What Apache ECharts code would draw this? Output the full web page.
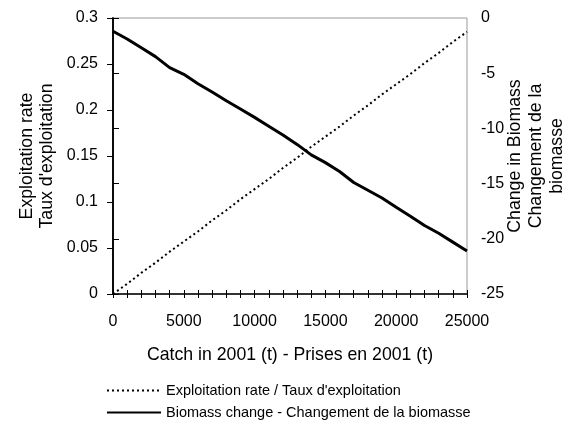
<!DOCTYPE html>
<html><head><meta charset="utf-8">
<script src="https://cdn.jsdelivr.net/npm/echarts@6/dist/echarts.min.js"></script>
<style>html,body{margin:0;padding:0;background:#fff}#c{width:573px;height:427px}</style>
</head><body><div id="c"></div>
<script>
const catches = [0,1000,2000,3000,4000,5000,6000,7000,8000,9000,10000,11000,12000,13000,14000,15000,16000,17000,18000,19000,20000,21000,22000,23000,24000,25000];
const exploitationRate = [0,0.011,0.023,0.034,0.046,0.057,0.068,0.080,0.091,0.103,0.114,0.125,0.137,0.148,0.160,0.171,0.182,0.194,0.205,0.217,0.228,0.239,0.251,0.262,0.274,0.285];
const biomassChange = [-1.2,-1.9,-2.7,-3.5,-4.5,-5.1,-5.95,-6.7,-7.5,-8.25,-9.0,-9.8,-10.6,-11.45,-12.4,-13.1,-13.9,-14.9,-15.6,-16.3,-17.15,-17.95,-18.8,-19.5,-20.3,-21.1];
const xTitle = 'Catch in 2001 (t) - Prises en 2001 (t)';
const yLeftTitle = 'Exploitation rate\nTaux d\'exploitation';
const yRightTitle = 'Change in Biomass\nChangement de la\nbiomasse';
const seriesNames = ['Exploitation rate / Taux d\'exploitation', 'Biomass change - Changement de la biomasse'];

const FONT = 'Liberation Sans';
const chart = echarts.init(document.getElementById('c'), null, {renderer:'canvas'});
const legendText = {fontFamily:FONT, fontSize:14.5, color:'#000'};
const hiddenSymbol = {color:'rgba(0,0,0,0)', borderColor:'rgba(0,0,0,0)', borderWidth:0};
chart.setOption({
  animation:false,
  backgroundColor:'#fff',
  textStyle:{fontFamily:FONT, color:'#000'},
  grid:{left:113, right:106, top:18, bottom:133, containLabel:false, outerBoundsMode:'none',
        show:true, borderColor:'#999', borderWidth:1, backgroundColor:'transparent'},
  legend:[{
    left:106, top:383, itemWidth:54, itemHeight:14, itemGap:0, padding:0,
    textStyle:legendText, itemStyle:hiddenSymbol, data:[seriesNames[0]]
  },{
    left:106, top:405, itemWidth:54, itemHeight:14, itemGap:0, padding:0,
    textStyle:legendText, itemStyle:hiddenSymbol, data:[seriesNames[1]]
  }],
  xAxis:[{
    type:'value', min:0, max:25000, interval:5000, position:'bottom',
    axisLine:{show:true, lineStyle:{color:'#000', width:1.5}},
    axisTick:{show:true, length:4, lineStyle:{color:'#000'}},
    minorTick:{show:true, splitNumber:5, length:4, lineStyle:{color:'#000'}},
    splitLine:{show:false},
    axisLabel:{fontFamily:FONT, fontSize:16, color:'#000', margin:20, formatter:v=>String(v)},
    name:xTitle, nameLocation:'middle', nameGap:52, nameMoveOverlap:false,
    nameTextStyle:{fontFamily:FONT, fontSize:17.7, color:'#000'}
  },{
    type:'value', min:0, max:25000, interval:5000, position:'top', offset:-276,
    axisLine:{show:false},
    axisTick:{show:true, length:4, lineStyle:{color:'#000'}},
    minorTick:{show:true, splitNumber:5, length:4, lineStyle:{color:'#000'}},
    splitLine:{show:false}, axisLabel:{show:false}
  }],
  yAxis:[{
    type:'value', min:0, max:0.3, interval:0.05, position:'left',
    axisLine:{show:true, lineStyle:{color:'#000', width:1.5}},
    axisTick:{show:true, length:6, lineStyle:{color:'#000'}},
    splitLine:{show:false},
    axisLabel:{fontFamily:FONT, fontSize:16, color:'#000', margin:15},
    name:yLeftTitle, nameLocation:'middle', nameGap:56, nameRotate:90, nameMoveOverlap:false,
    nameTextStyle:{fontFamily:FONT, fontSize:17.7, color:'#000', lineHeight:20, align:'center'}
  },{
    type:'value', min:-25, max:0, interval:5, position:'right',
    axisLine:{show:true, lineStyle:{color:'#000', width:1.5}},
    axisTick:{show:true, length:6, lineStyle:{color:'#000'}},
    splitLine:{show:false},
    axisLabel:{fontFamily:FONT, fontSize:16, color:'#000', margin:14},
    name:yRightTitle, nameLocation:'middle', nameGap:38, nameRotate:90, nameMoveOverlap:false,
    nameTextStyle:{fontFamily:FONT, fontSize:17.7, color:'#000', lineHeight:21, align:'center'}
  }],
  series:[{
    name:seriesNames[0], type:'line', xAxisIndex:0, yAxisIndex:0,
    data:catches.map((c,i)=>[c, exploitationRate[i]]),
    showSymbol:false, symbol:'none',
    lineStyle:{color:'#000', width:2, type:[2,3]}, itemStyle:{color:'#000'}
  },{
    name:seriesNames[1], type:'line', xAxisIndex:0, yAxisIndex:1,
    data:catches.map((c,i)=>[c, biomassChange[i]]),
    showSymbol:false, symbol:'none',
    lineStyle:{color:'#000', width:3}, itemStyle:{color:'#000'}
  }]
});
</script></body></html>
